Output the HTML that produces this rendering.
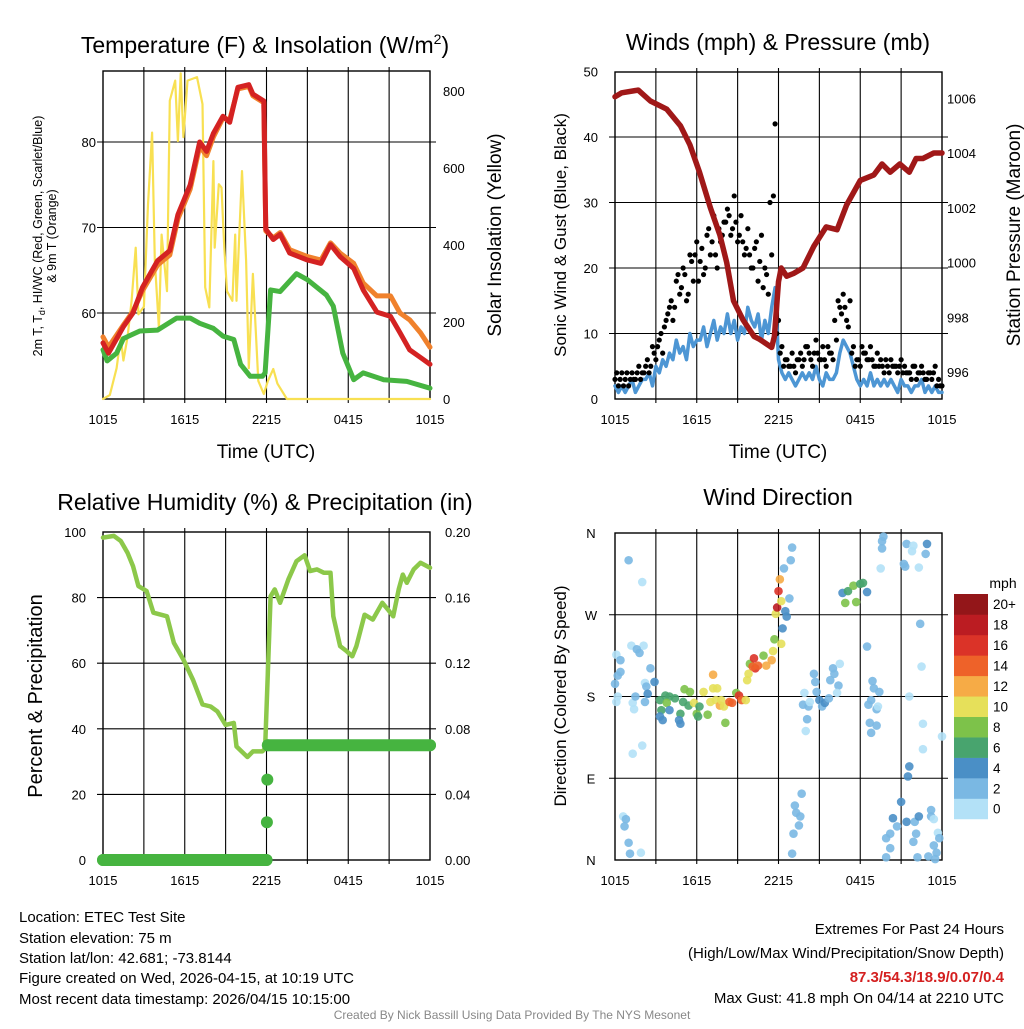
<!DOCTYPE html>
<html><head><meta charset="utf-8">
<style>
html,body{margin:0;padding:0;background:#fff;}
svg text{font-family:"Liberation Sans",sans-serif;}
</style></head>
<body>
<svg id="fig" width="1024" height="1024" viewBox="0 0 1024 1024" xmlns="http://www.w3.org/2000/svg">
<rect x="0" y="0" width="1024" height="1024" fill="#fff"/>
<g id="static">
<text x="265" y="53" font-size="23" text-anchor="middle">Temperature (F) &amp; Insolation (W/m<tspan font-size="14" dy="-9">2</tspan><tspan dy="9">)</tspan></text>
<text transform="translate(42,236) rotate(-90)" font-size="12.5" text-anchor="middle">2m T, T<tspan font-size="9" dy="3">d</tspan><tspan dy="-3">, HI/WC (Red, Green, Scarlet/Blue)</tspan></text>
<text transform="translate(56,236) rotate(-90)" font-size="12.5" text-anchor="middle">&amp; 9m T (Orange)</text>
<text transform="translate(501,235) rotate(-90)" font-size="19" text-anchor="middle">Solar Insolation (Yellow)</text>
<text x="266" y="458" font-size="19" text-anchor="middle">Time (UTC)</text>
<text x="778" y="50" font-size="23" text-anchor="middle">Winds (mph) &amp; Pressure (mb)</text>
<text transform="translate(566,235) rotate(-90)" font-size="17" text-anchor="middle">Sonic Wind &amp; Gust (Blue, Black)</text>
<text transform="translate(1020,235) rotate(-90)" font-size="19" text-anchor="middle">Station Pressure (Maroon)</text>
<text x="778" y="458" font-size="19" text-anchor="middle">Time (UTC)</text>
<text x="265" y="510" font-size="23" text-anchor="middle">Relative Humidity (%) &amp; Precipitation (in)</text>
<text transform="translate(42,696) rotate(-90)" font-size="20" text-anchor="middle">Percent &amp; Precipitation</text>
<text x="778" y="505" font-size="23" text-anchor="middle">Wind Direction</text>
<text transform="translate(566,696) rotate(-90)" font-size="17" text-anchor="middle">Direction (Colored By Speed)</text>
<text x="1003" y="588" font-size="14" text-anchor="middle">mph</text>
<g font-size="15">
<text x="19" y="922">Location: ETEC Test Site</text>
<text x="19" y="943">Station elevation: 75 m</text>
<text x="19" y="963">Station lat/lon: 42.681; -73.8144</text>
<text x="19" y="983">Figure created on Wed, 2026-04-15, at 10:19 UTC</text>
<text x="19" y="1004">Most recent data timestamp: 2026/04/15 10:15:00</text>
<text x="1004" y="934" text-anchor="end">Extremes For Past 24 Hours</text>
<text x="1004" y="958" text-anchor="end">(High/Low/Max Wind/Precipitation/Snow Depth)</text>
<text x="1004" y="982" text-anchor="end" fill="#d42020" font-weight="bold">87.3/54.3/18.9/0.07/0.4</text>
<text x="1004" y="1003" text-anchor="end">Max Gust: 41.8 mph On 04/14 at 2210 UTC</text>
</g>
<text x="512" y="1019" font-size="12" fill="#888" text-anchor="middle">Created By Nick Bassill Using Data Provided By The NYS Mesonet</text>
</g>
</svg>
<script>
// ---------- data ----------
var xTickLabels = ["1015","1615","2215","0415","1015"];
// Panel 1
var tempTimes = [0,0.4,1.5,2.2,2.9,4,4.9,5.5,6.4,7.1,7.6,8.1,8.8,9.3,9.9,10.7,11,11.8,11.95,12.5,13,13.7,15,16,16.7,17.4,18.4,19.1,20.1,21.1,21.8,22.5,23.3,24];
var tempRed = [56.5,55.3,58.4,60,63,66.1,67.3,71.5,75,80,78.9,81,83,82.3,86.4,86.7,85.6,84.8,69.8,68.6,69.2,67,66.2,65.8,68,66.6,65.2,62.7,60.1,59.6,57.7,55.7,54.8,54];
var tempOrange = [57.2,56,58.6,60.2,62.6,65.6,66.8,71,74.5,79.5,78.4,80.6,82.8,82.6,86.2,86.5,85.4,84.6,69.6,68.8,69.4,67.4,66.6,66.2,68.2,67,65.8,63.5,62,62,60,59.2,57.7,56];
var dewTimes = [0,0.3,1,1.5,2.7,4,5.4,6.4,7.1,8.1,8.8,9.6,10.1,10.8,11.7,11.9,12.3,13,14.2,15,16.4,16.9,17.6,18.4,19.1,20.6,22.3,24];
var dewVals = [55.7,54.4,55.3,57,57.9,58,59.4,59.4,58.8,58.2,57.3,56.9,54,52.6,52.6,53,62.7,62.5,64.6,63.9,62.1,60.8,55.3,52.2,53,52.2,52,51.2];
var solTimes = [0,0.5,1,1.3,1.5,1.8,2.1,2.4,2.6,3.0,3.3,3.6,3.8,4.1,4.3,4.7,4.9,5.3,5.5,5.7,5.9,6.2,6.9,7.3,7.5,7.8,8.1,8.2,8.5,8.7,8.9,9.1,9.5,9.7,9.8,10.2,10.5,10.7,11.0,11.4,11.8,12.1,12.5,12.8,13.5,24];
var solVals = [0,10,80,160,100,160,255,393,220,240,505,692,360,185,427,280,775,827,670,846,680,827,836,766,290,238,618,393,558,549,393,280,255,427,255,592,360,80,325,47,13,47,78,40,0,0];
// Panel 2
var presTimes = [0,0.5,1.7,2.6,3.8,4.8,5.5,6.2,7,7.7,8.2,8.7,9.4,10.2,10.6,11.5,11.7,12,12.2,12.6,13.1,13.8,14.6,15.5,16.3,17,18,19,19.6,20.2,20.9,21.6,22.1,22.6,23.4,24];
var presVals = [1006.06,1006.2,1006.3,1005.9,1005.6,1005,1004.3,1003.3,1002,1001,1000,998.6,997.9,997.3,997.2,996.9,997.3,999.3,999.8,999.5,999.6,999.8,1000.6,1001.3,1001.2,1002.1,1003,1003.2,1003.6,1003.3,1003.6,1003.3,1003.8,1003.8,1004,1004];
var windVals = [2,1,2,1,2,3,1,2,3, 3,4,2,5,4,6,5,7, 6,9,7,8,6,10,8,9, 9,11,8,10,12,9,11,10, 13,10,12,9,11,10,14,12, 11,13,9,12,10,14,17,6, 4,3,4,3,2,3,4,3, 4,3,5,3,2,4,3,3, 4,7,9,8,7,5,3,2, 3,2,4,2,3,2,3,2, 3,2,1,3,2,2,1,2, 2,3,1,2,1,2,1,1];
var gustVals = [3,2,4,3,2,4,3,5,4, 5,4,8,6,9,7,12,14, 12,18,16,20,15,22,18,24, 21,19,25,22,28,20,24,27, 29,25,31,24,28,22,26,20, 23,18,25,20,16,22,42,12, 8,6,5,7,4,6,5,8, 7,5,9,6,8,5,7,6, 9,14,16,12,15,8,6,5, 7,6,8,5,7,6,4,5, 6,5,4,6,5,4,3,5, 4,5,3,4,3,5,3,2];
var gustValsMid = [4,3,2,4,3,3,4,3, 4,6,5,7,8,10,11,13, 15,14,19,17,19,16,21,22, 18,23,20,26,24,22,26,25, 27,28,26,27,25,24,23,22, 20,24,21,17,19,30,31,10, 7,5,6,5,5,6,7,6, 8,6,7,7,6,6,8,7, 12,15,13,14,11,7,5,6, 8,7,6,6,5,5,5,6, 4,5,5,5,4,4,4,5, 3,4,4,3,4,4,2,2];
// Panel 3
var rhTimes = [0,0.8,1.3,1.8,2.2,2.6,3.2,3.7,4.7,5.2,5.9,6.6,7.3,7.9,8.4,9.0,9.6,9.8,10.6,11.0,11.7,11.9,12.3,12.6,13.0,13.6,14.2,14.8,15.2,15.7,16.2,16.7,16.9,17.4,17.9,18.3,18.6,19.2,19.8,20.5,20.9,21.3,21.7,22.0,22.3,22.8,23.3,24];
var rhVals = [98.3,98.8,97.3,93.7,89.6,83.5,82,75.4,74.3,66.2,61.1,55,47.4,46.8,45.3,41.2,41.8,34.6,31.4,33.1,33.1,34,80.4,82.5,78.4,85.5,91.1,92.9,88.1,88.6,87.6,87.6,74.3,65.2,63.6,62.1,65.2,74.8,73.3,78.4,76.4,74.3,82.5,87,84.5,88.6,90.6,89.1];
var precipTimes = [0,12.0,12.03,12.06,12.1,24];
var precipVals = [0,0,0.023,0.049,0.07,0.07];
// Panel 4
var dirTimes = [1.0,2.0,0.6,0.8,0.7,1.0,1.1,1.9,1.3,2.0,1.2,2.1,1.6,1.8,0.1,0.4,0.4,0.2,0,0.1,0.2,1.3,1.4,1.5,2.6,2.2,2.3,2.4,2.9,2.2,3.3,3.7,4.0,4.4,3.8,3.4,3.5,3.3,4.0,4.8,4.8,4.7,5.1,5.5,5.0,5.4,5.8,6.0,6.1,6.2,6.8,6.5,7.0,7.2,7.2,7.5,7.4,7.7,8.1,7.8,8.0,8.4,8.6,8.9,9.1,9.3,9.6,9.7,9.8,9.9,10.2,10.3,10.1,10.5,10.9,11.1,11.5,11.6,11.7,12.2,11.8,11.9,12.0,12.1,12.2,12.5,12.6,12.3,12.8,12.4,12.9,13.0,13.7,13.2,13.3,13.6,13.5,13.1,13.0,13.9,13.8,14.2,14.1,14.0,14.3,14.6,14.7,14.8,15.0,15.2,15.4,15.7,15.8,16.0,16.1,16.4,16.3,16.5,16.7,17.1,17.5,18.0,18.2,16.9,17.7,18.5,18.5,18.9,19.0,19.4,18.8,18.6,19.2,19.3,18.7,19.2,18.8,19.7,19.6,19.6,19.5,21.4,21.8,21.9,22.9,22.8,22.3,21.2,21.3,22.4,22.5,22.6,22.6,24,21.6,21.6,21.5,21.0,20.4,20.7,20.2,19.9,20.2,19.9,21.4,22.0,22.3,22.1,21.9,22.2,23.2,23.2,23.4,23.7,23.8,23.4,23.6,23.0,23.5];
var dirVals = [330,306,48,45,37,19,7,8,117,126,236,236,232,228,226,220,207,203,194,174,180,173,166,180,211,195,191,183,196,174,176,181,180,178,173,165,154,158,165,161,150,154,188,185,174,170,173,161,158,169,160,185,174,204,189,189,176,170,151,176,169,174,173,184,181,176,176,198,205,216,222,211,213,214,225,214,220,230,243,238,271,278,296,309,285,274,268,255,288,321,330,344,73,60,52,48,38,29,7,184,171,169,155,142,174,205,196,185,176,169,173,178,198,211,205,192,184,216,294,296,302,304,305,283,284,295,235,197,189,185,176,171,166,169,151,148,140,356,351,343,321,348,340,346,348,337,322,326,323,260,213,150,122,136,180,103,92,64,46,37,29,24,13,3,42,42,48,29,20,3,55,48,45,30,24,16,8,4,1];
var dirSpeeds = [2,0,0,2,2,2,2,0,0,0,0,0,2,2,0,2,2,2,2,0,0,0,0,2,2,0,2,4,4,2,6,6,6,6,8,6,4,4,4,6,4,4,8,8,6,6,10,8,6,6,8,10,10,12,10,10,10,12,8,10,10,14,14,8,16,14,10,10,10,8,16,16,14,14,8,12,12,10,8,10,10,18,16,12,10,4,4,4,2,2,2,2,2,2,2,2,2,2,2,0,2,2,2,0,0,2,2,2,4,2,4,2,2,2,2,2,0,0,4,6,8,6,6,8,8,4,2,2,2,2,2,2,2,0,2,2,2,2,2,2,0,2,0,0,4,2,0,2,2,2,0,0,0,0,0,4,4,4,4,2,2,2,2,2,4,2,4,2,2,2,2,2,0,0,2,2,2,2,2,2,2,2,2,2];
var cbLabels = ["0","2","4","6","8","10","12","14","16","18","20+"];
var cbColors = ["#b3e1f7","#7ab8e3","#4a8fc6","#48a46e","#7dc24a","#e6e05a","#f6ab46","#ee6229","#db3328","#bb1c22","#931619"];

// ---------- scales ----------
var NS="http://www.w3.org/2000/svg";
var svg=document.getElementById('fig');
function el(tag,attrs,parent){var e=document.createElementNS(NS,tag);for(var k in attrs)e.setAttribute(k,attrs[k]);(parent||svg).appendChild(e);return e;}
var P1={x0:103,x1:430,y0:71,y1:399}, P2={x0:615,x1:942,y0:72,y1:399}, P3={x0:103,x1:430,y0:532,y1:860}, P4={x0:615,x1:942,y0:533,y1:860};
function xs(P,t){return P.x0+(P.x1-P.x0)*t/24;}
function yTemp(v){return 313-(v-60)*8.55;}
function ySol(v){return 399-v*0.385;}
function yWind(v){return 399-v*6.55;}
function yPres(p){return 98.3-(p-1006)*27.37;}
function yRH(v){return 860-v*3.28;}
function yPr(v){return 860-v*1640;}
function yDir(d){return 860-d*327/360;}

function frame(P,name,hgrid){
  var g=el('g',{});
  
  
  for(var i=1;i<8;i++){var x=xs(P,i*3);
    var l=el('line',{x1:x,x2:x,y1:P.y0-4,y2:P.y1+4,stroke:'#000','stroke-width':1.1},g);
    
    }
  hgrid.forEach(function(y){
    var l=el('line',{x1:P.x0-6,x2:P.x1+6,y1:y,y2:y,stroke:'#000','stroke-width':1.1},g);
    
    });
  var r=el('rect',{x:P.x0,y:P.y0,width:P.x1-P.x0,height:P.y1-P.y0,fill:'none',stroke:'#000','stroke-width':1.4},g);
  
  
  for(var j=0;j<5;j++){
    var t=el('text',{x:xs(P,j*6),y:P.y1+25,'font-size':13,'text-anchor':'middle'},g);
    t.textContent=xTickLabels[j];
    
    
  }
  return g;
}
function ylabels(vals,fy,x,anchor,fmt,name){
  vals.forEach(function(v){
    var t=el('text',{x:x,y:fy(v)+5,'font-size':13,'text-anchor':anchor});
    t.textContent=fmt?fmt(v):v;
    
    
  });
}
function line(P,times,vals,fy,color,w,name,op){
  var pts=times.map(function(t,i){return xs(P,t).toFixed(1)+','+fy(vals[i]).toFixed(1);}).join(' ');
  var p=el('polyline',{points:pts,fill:'none',stroke:color,'stroke-width':w,'stroke-linejoin':'round','stroke-linecap':'round',opacity:op||1});
  
  
  return p;
}

// Panel 1
frame(P1,'temperature',[60,70,80].map(yTemp));
ylabels([60,70,80],yTemp,96,'end',null,'temperature-y-tick-label');
ylabels([0,200,400,600,800],ySol,443,'start',null,'insolation-y-tick-label');
line(P1,solTimes,solVals,ySol,'#f8e052',2.2,'insolation-line');
line(P1,dewTimes,dewVals,yTemp,'#46b440',5,'dewpoint-line');
line(P1,tempTimes,tempOrange,yTemp,'#f0812c',5,'temperature-9m-line');
line(P1,tempTimes,tempRed,yTemp,'#d42222',5,'temperature-2m-line');

// Panel 2
frame(P2,'winds',[10,20,30,40].map(yWind));
ylabels([0,10,20,30,40,50],yWind,598,'end',null,'wind-y-tick-label');
ylabels([996,998,1000,1002,1004,1006],yPres,947,'start',null,'pressure-y-tick-label');
var windTimes=windVals.map(function(v,i){return i*0.25;});
line(P2,windTimes,windVals,yWind,'#4d96d4',3.5,'sonic-wind-line');
gustVals.forEach(function(v,i){
  var c=el('circle',{cx:xs(P2,i*0.25),cy:yWind(v),r:2.6,fill:'#000'});
  
  
});
gustValsMid.forEach(function(v,i){
  var c=el('circle',{cx:xs(P2,i*0.25+0.125),cy:yWind(v),r:2.6,fill:'#000'});
  
  
});
line(P2,presTimes,presVals,yPres,'#a01818',5.5,'pressure-line');

// Panel 3
frame(P3,'humidity',[20,40,60,80].map(yRH));
ylabels([0,20,40,60,80,100],yRH,86,'end',null,'humidity-y-tick-label');
ylabels([0,0.04,0.08,0.12,0.16,0.2],yPr,445,'start',function(v){return v.toFixed(2);},'precip-y-tick-label');
line(P3,rhTimes,rhVals,yRH,'#8cc84a',4.5,'humidity-line');
for(var i=0;i<precipTimes.length;i++){
  var c=el('circle',{cx:xs(P3,precipTimes[i]),cy:yPr(precipVals[i]),r:6,fill:'#46b440'});
  
  
  if(i>0&&precipVals[i]===precipVals[i-1]){
    var s=el('line',{x1:xs(P3,precipTimes[i-1]),x2:xs(P3,precipTimes[i]),y1:yPr(precipVals[i]),y2:yPr(precipVals[i]),stroke:'#46b440','stroke-width':12,'stroke-linecap':'round'});
    
    
  }
}

// Panel 4
frame(P4,'direction',[90,180,270].map(yDir));
var dirNames=['N','E','S','W','N'];
[0,90,180,270,360].forEach(function(d,i){
  var t=el('text',{x:591,y:yDir(d)+5,'font-size':13,'text-anchor':'middle'});
  t.textContent=dirNames[i];
  
  
});
for(var k=0;k<dirTimes.length;k++){
  var sp=(dirSpeeds[k]===undefined)?2:dirSpeeds[k];
  var idx=Math.min(10,Math.round(sp/2));
  var c=el('circle',{cx:xs(P4,dirTimes[k]),cy:yDir(dirVals[k]),r:4.3,fill:cbColors[idx],opacity:0.9});
  
  
}
// colorbar
var cbTop=594,cbH=20.45;
for(var b=0;b<11;b++){
  var y=cbTop+(10-b)*cbH;
  var r=el('rect',{x:954,y:y,width:34,height:cbH+0.3,fill:cbColors[b]});
  
  
  var t=el('text',{x:993,y:y+cbH/2+5,'font-size':13.5});
  t.textContent=cbLabels[b];
  
  
}
</script>
</body></html>
